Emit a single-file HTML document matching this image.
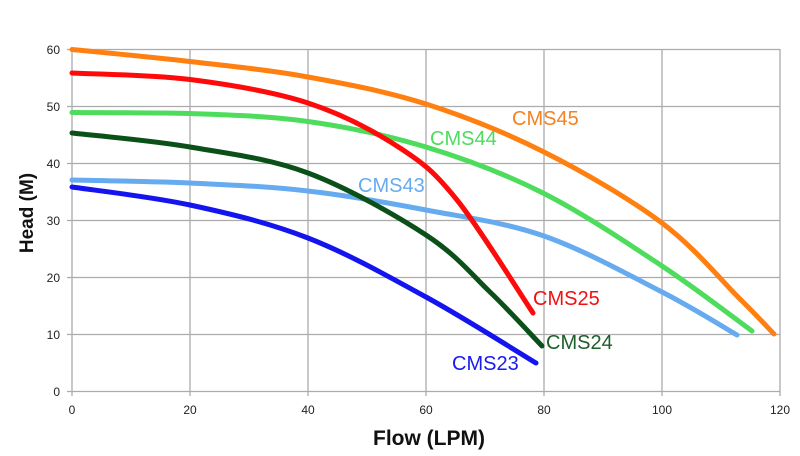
<!DOCTYPE html>
<html><head><meta charset="utf-8"><style>
html,body{margin:0;padding:0;background:#fff;}
svg{display:block;}
</style></head><body>
<svg width="800" height="456" viewBox="0 0 800 456" xmlns="http://www.w3.org/2000/svg" font-family="Liberation Sans, Arial, sans-serif">
<rect width="800" height="456" fill="#fff"/>
<g stroke="#ababab" stroke-width="1.3" fill="none">
<line x1="67" y1="49.5" x2="780" y2="49.5"/>
<line x1="67" y1="106.5" x2="780" y2="106.5"/>
<line x1="67" y1="163.5" x2="780" y2="163.5"/>
<line x1="67" y1="220.5" x2="780" y2="220.5"/>
<line x1="67" y1="277.5" x2="780" y2="277.5"/>
<line x1="67" y1="334.5" x2="780" y2="334.5"/>
<line x1="67" y1="391.5" x2="780" y2="391.5"/>
<line x1="72" y1="49" x2="72" y2="396"/>
<line x1="190" y1="49" x2="190" y2="396"/>
<line x1="308" y1="49" x2="308" y2="396"/>
<line x1="426" y1="49" x2="426" y2="396"/>
<line x1="544" y1="49" x2="544" y2="396"/>
<line x1="662" y1="49" x2="662" y2="396"/>
<line x1="780" y1="49" x2="780" y2="396"/>
</g>
<g font-size="12" fill="#222" text-anchor="end">
<text x="60" y="54">60</text>
<text x="60" y="111">50</text>
<text x="60" y="168">40</text>
<text x="60" y="225">30</text>
<text x="60" y="282">20</text>
<text x="60" y="339">10</text>
<text x="60" y="396">0</text>
</g>
<g font-size="12" fill="#222" text-anchor="middle">
<text x="72" y="414">0</text>
<text x="190" y="414">20</text>
<text x="308" y="414">40</text>
<text x="426" y="414">60</text>
<text x="544" y="414">80</text>
<text x="662" y="414">100</text>
<text x="780" y="414">120</text>
</g>
<text x="429" y="445" font-size="21" font-weight="bold" text-anchor="middle" fill="#111">Flow (LPM)</text>
<text transform="translate(33,213) rotate(-90)" font-size="19" font-weight="bold" text-anchor="middle" fill="#111">Head (M)</text>
<g fill="none" stroke-width="5" stroke-linecap="round" stroke-linejoin="round">
<path stroke="#ff7f10" d="M72,49.5 C91.7,51.5 150.7,56.9 190,61.5 C229.3,66.1 268.7,69.9 308,77 C347.3,84.1 386.7,91.5 426,104 C465.3,116.5 504.7,132.2 544,152 C583.3,171.8 629.3,198.5 662,223 C694.7,247.5 721.3,280.5 740,299 C758.7,317.5 768.3,328.2 774,334"/>
<path stroke="#4ddc5c" d="M72,112.5 C91.7,112.7 150.7,112.6 190,113.5 C229.3,115 268.7,115.9 308,121.5 C347.3,127.1 386.8,135.1 426,147 C465.2,158.9 503.7,173.2 543,193 C582.3,212.8 627.2,243 662,266 C696.8,289 737,320.2 752,331"/>
<path stroke="#66aaf0" d="M72,180 C91.7,180.5 150.7,181.2 190,183 C229.3,184.8 268.7,186.5 308,191 C347.3,195.5 386.7,202.5 426,210 C465.3,217.5 504.7,222.3 544,236 C583.3,249.7 629.8,275.5 662,292 C694.2,308.5 724.5,327.8 737,335"/>
<path stroke="#0a5018" d="M72,133 C91.7,135.3 150.7,140.3 190,147 C229.3,153.7 268.7,158.3 308,173 C347.3,187.7 395.7,215.2 426,235 C456.3,254.8 470.7,273.5 490,292 C509.3,310.5 533.3,337 542,346"/>
<path stroke="#ff0a0a" d="M72,73 C91.7,74.1 150.7,74.5 190,79.5 C229.3,84.5 273,91.6 308,103 C343,114.4 375.2,131.8 400,148 C424.8,164.2 434.8,172.5 457,200 C479.2,227.5 520.3,294.2 533,313"/>
<path stroke="#1414ee" d="M72,187 C91.7,190 150.7,196.5 190,205 C229.3,213.5 268.7,222.7 308,238 C347.3,253.3 388,276.2 426,297 C464,317.8 517.7,352 536,363"/>
</g>
<g font-size="20">
<text x="512" y="125" fill="#f58220">CMS45</text>
<text x="430" y="145" fill="#4ddc5c">CMS44</text>
<text x="358" y="192" fill="#66aaf0">CMS43</text>
<text x="533" y="305" fill="#ee1111">CMS25</text>
<text x="546" y="349" fill="#1d5e2a">CMS24</text>
<text x="452" y="370" fill="#1a1aee">CMS23</text>
</g>
</svg>
</body></html>
